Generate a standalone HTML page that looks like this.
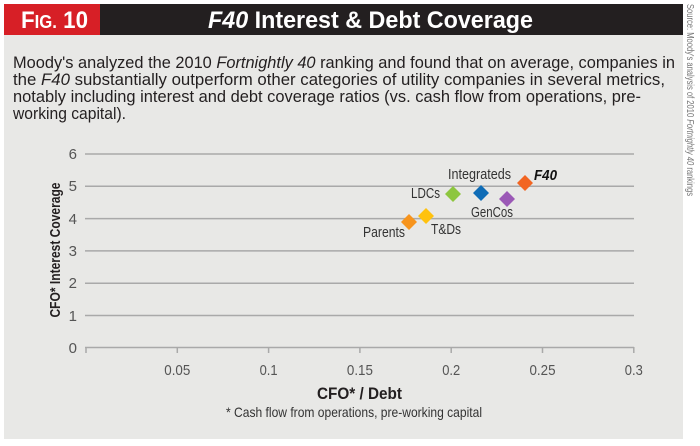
<!DOCTYPE html>
<html><head><meta charset="utf-8"><style>
html,body{margin:0;padding:0;background:#fff;}
svg{display:block;}
text{font-family:"Liberation Sans",sans-serif;}
</style></head><body>
<svg width="700" height="446" viewBox="0 0 700 446" xmlns="http://www.w3.org/2000/svg">
<rect x="0" y="0" width="700" height="446" fill="#fff"/>
<rect x="4" y="4" width="679" height="435" fill="#e8e8e6"/>
<rect x="4" y="4" width="679" height="31" fill="#231f20"/>
<rect x="4" y="4" width="96" height="31" fill="#d71f26"/>
<text x="21" y="28" fill="#fff" font-weight="bold" font-size="24" textLength="67" lengthAdjust="spacingAndGlyphs">F<tspan font-size="18">IG.</tspan> 10</text>
<text x="208" y="28" fill="#fff" font-weight="bold" font-size="24" textLength="325" lengthAdjust="spacingAndGlyphs"><tspan font-style="italic">F40</tspan> Interest &amp; Debt Coverage</text>
<text transform="translate(687,4) rotate(90)" fill="#777" font-size="10" textLength="192" lengthAdjust="spacingAndGlyphs">Source: Moody's analysis of 2010 <tspan font-style="italic">Fortnightly 40</tspan> rankings</text>
<g fill="#231f20" font-size="17">
<text x="13" y="68" textLength="662" lengthAdjust="spacingAndGlyphs">Moody's analyzed the 2010 <tspan font-style="italic">Fortnightly 40</tspan> ranking and found that on average, companies in</text>
<text x="13" y="85" textLength="652" lengthAdjust="spacingAndGlyphs">the <tspan font-style="italic">F40</tspan> substantially outperform other categories of utility companies in several metrics,</text>
<text x="13" y="102" textLength="628" lengthAdjust="spacingAndGlyphs">notably including interest and debt coverage ratios (vs. cash flow from operations, pre-</text>
<text x="13" y="119" textLength="113" lengthAdjust="spacingAndGlyphs">working capital).</text>
</g>
<g stroke="#a9a9a9" stroke-width="1.5">
<line x1="85" y1="154" x2="634" y2="154"/>
<line x1="85" y1="186.3" x2="634" y2="186.3"/>
<line x1="85" y1="218.6" x2="634" y2="218.6"/>
<line x1="85" y1="250.9" x2="634" y2="250.9"/>
<line x1="85" y1="283.2" x2="634" y2="283.2"/>
<line x1="85" y1="315.5" x2="634" y2="315.5"/>
<line x1="85" y1="347.5" x2="634" y2="347.5"/>
<line x1="86" y1="347" x2="86" y2="353"/>
<line x1="177.3" y1="347" x2="177.3" y2="353"/>
<line x1="268.6" y1="347" x2="268.6" y2="353"/>
<line x1="359.9" y1="347" x2="359.9" y2="353"/>
<line x1="451.2" y1="347" x2="451.2" y2="353"/>
<line x1="542.5" y1="347" x2="542.5" y2="353"/>
<line x1="633.8" y1="347" x2="633.8" y2="353"/>
</g>
<g fill="#555" font-size="15" text-anchor="end">
<text x="77" y="159">6</text><text x="77" y="191">5</text><text x="77" y="224">4</text>
<text x="77" y="256">3</text><text x="77" y="288">2</text><text x="77" y="321">1</text><text x="77" y="353">0</text>
</g>
<g fill="#555" font-size="15">
<text x="164.3" y="375" textLength="26" lengthAdjust="spacingAndGlyphs">0.05</text>
<text x="259.6" y="375" textLength="18" lengthAdjust="spacingAndGlyphs">0.1</text>
<text x="346.9" y="375" textLength="26" lengthAdjust="spacingAndGlyphs">0.15</text>
<text x="442.2" y="375" textLength="18" lengthAdjust="spacingAndGlyphs">0.2</text>
<text x="529.5" y="375" textLength="26" lengthAdjust="spacingAndGlyphs">0.25</text>
<text x="624.8" y="375" textLength="18" lengthAdjust="spacingAndGlyphs">0.3</text>
</g>
<text transform="translate(60,250) rotate(-90)" text-anchor="middle" font-weight="bold" font-size="15" fill="#231f20" textLength="135" lengthAdjust="spacingAndGlyphs">CFO* Interest Coverage</text>
<text x="317" y="399" font-weight="bold" font-size="17" fill="#231f20" textLength="85" lengthAdjust="spacingAndGlyphs">CFO* / Debt</text>
<text x="226" y="417" font-size="14" fill="#333" textLength="256" lengthAdjust="spacingAndGlyphs">* Cash flow from operations, pre-working capital</text>
<g>
<polygon points="409,214 417,222 409,230 401,222" fill="#f7941d"/>
<polygon points="426,208 434,216 426,224 418,216" fill="#ffc20e"/>
<polygon points="453,186 461,194 453,202 445,194" fill="#8dc63f"/>
<polygon points="481,185 489,193 481,201 473,193" fill="#0f6cb6"/>
<polygon points="507,191 515,199 507,207 499,199" fill="#9b59b6"/>
<polygon points="525,175 533,183 525,191 517,183" fill="#f26522"/>
</g>
<g fill="#333" font-size="15">
<text x="448" y="179" textLength="63" lengthAdjust="spacingAndGlyphs">Integrateds</text>
<text x="534" y="180" font-weight="bold" font-style="italic" fill="#111" textLength="23" lengthAdjust="spacingAndGlyphs">F40</text>
<text x="411" y="198" textLength="29" lengthAdjust="spacingAndGlyphs">LDCs</text>
<text x="471" y="217" textLength="42" lengthAdjust="spacingAndGlyphs">GenCos</text>
<text x="431" y="234" textLength="30" lengthAdjust="spacingAndGlyphs">T&amp;Ds</text>
<text x="363" y="237" textLength="42" lengthAdjust="spacingAndGlyphs">Parents</text>
</g>
</svg>
</body></html>
